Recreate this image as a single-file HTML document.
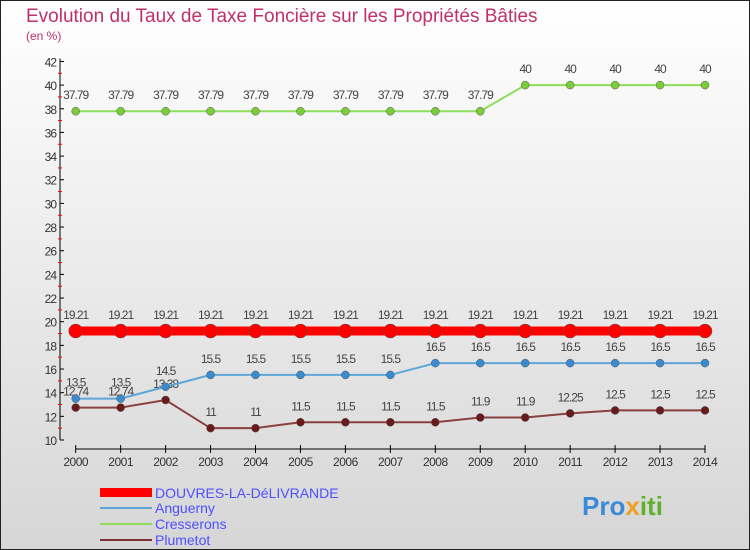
<!DOCTYPE html>
<html><head><meta charset="utf-8">
<style>
body{margin:0;width:750px;height:550px;overflow:hidden;font-family:"Liberation Sans",sans-serif}
svg{display:block}
</style></head>
<body>
<svg width="750" height="550" viewBox="0 0 750 550">
<defs><linearGradient id="bg" x1="0" y1="0" x2="0" y2="1"><stop offset="0" stop-color="#ffffff"/><stop offset="1" stop-color="#d6d6d6"/></linearGradient></defs>
<rect x="0.5" y="0.5" width="749" height="549" fill="url(#bg)" stroke="#222"/>
<text x="26" y="22" font-size="19" fill="#c0306a">Evolution du Taux de Taxe Foncière sur les Propriétés Bâties</text>
<text x="26" y="40" font-size="12" fill="#c0306a">(en %)</text>
<g id="axes"></g>
<g id="series"></g>
<g>
<rect x="100" y="488" width="52" height="9" fill="#ff0000"/>
<text x="155" y="498" font-size="14" fill="#4f4fff">DOUVRES-LA-DéLIVRANDE</text>
<line x1="100" y1="508" x2="152" y2="508" stroke="#5ea6d8" stroke-width="2"/>
<text x="155" y="513" font-size="14" fill="#4f4fff">Anguerny</text>
<line x1="100" y1="524" x2="152" y2="524" stroke="#8fdc5a" stroke-width="2"/>
<text x="155" y="529" font-size="14" fill="#4f4fff">Cresserons</text>
<line x1="100" y1="540" x2="152" y2="540" stroke="#7a3030" stroke-width="2"/>
<text x="155" y="545" font-size="14" fill="#4f4fff">Plumetot</text>
</g>
<text x="582" y="515" font-size="26" font-weight="bold" fill="#3a8ad8">Pro<tspan fill="#f0a020">x</tspan><tspan fill="#60b030">iti</tspan></text>
</svg>
<script>
const years=[2000,2001,2002,2003,2004,2005,2006,2007,2008,2009,2010,2011,2012,2013,2014];
const douvres=[19.21,19.21,19.21,19.21,19.21,19.21,19.21,19.21,19.21,19.21,19.21,19.21,19.21,19.21,19.21];
const anguerny=[13.5,13.5,14.5,15.5,15.5,15.5,15.5,15.5,16.5,16.5,16.5,16.5,16.5,16.5,16.5];
const cresserons=[37.79,37.79,37.79,37.79,37.79,37.79,37.79,37.79,37.79,37.79,40,40,40,40,40];
const plumetot=[12.74,12.74,13.38,11,11,11.5,11.5,11.5,11.5,11.9,11.9,12.25,12.5,12.5,12.5];
const yTicks=[10,12,14,16,18,20,22,24,26,28,30,32,34,36,38,40,42];
const NS='http://www.w3.org/2000/svg';
const xs=i=>75.7+i*44.95;
const ys=v=>440-(v-10)*11.83;
function mk(tag,attrs,parent){const e=document.createElementNS(NS,tag);for(const k in attrs)e.setAttribute(k,attrs[k]);parent.appendChild(e);return e;}
const ax=document.getElementById('axes');
let l=mk('line',{x1:60,y1:ys(42)-3,x2:60,y2:ys(10),stroke:'#000'},ax);


l=mk('line',{x1:xs(0),y1:449,x2:xs(14),y2:449,stroke:'#000'},ax);


yTicks.forEach(v=>{
 mk('line',{x1:60,y1:ys(v),x2:64,y2:ys(v),stroke:'#000'},ax);
 if(v<42)mk('line',{x1:58,y1:ys(v+1),x2:62,y2:ys(v+1),stroke:'#f00'},ax);
 const t=mk('text',{x:56,y:ys(v)+5,'font-size':12,'text-anchor':'end',fill:'#333','letter-spacing':'-1'},ax);
 t.textContent=v;
 
 
});
years.forEach((y,i)=>{
 mk('line',{x1:xs(i),y1:445,x2:xs(i),y2:453,stroke:'#000'},ax);
 const t=mk('text',{x:xs(i),y:466,'font-size':12,'text-anchor':'middle',fill:'#333','letter-spacing':'-0.5'},ax);
 t.textContent=y;
 
 
});
const sg=document.getElementById('series');
function series(vals,name,color,w,r,dot,off){
 const g=mk('g',{},sg);
 
 
 const p=mk('polyline',{points:vals.map((v,i)=>xs(i)+','+ys(v)).join(' '),fill:'none',stroke:color,'stroke-width':w},g);
 
 
 vals.forEach((v,i)=>{
  const c=mk('circle',{cx:xs(i),cy:ys(v),r:r,fill:dot,stroke:'#555','stroke-width':0.5},g);
  
  
  const t=mk('text',{x:xs(i),y:ys(v)-off,'font-size':12,'text-anchor':'middle',fill:'#444','letter-spacing':'-1'},g);
  t.textContent=String(v).replace(/\.(\d)$/,'.$1');
  
  
 });
}
series(cresserons,'cresserons','#8fdc5a',2,4,'#7ccc3a',12);
series(plumetot,'plumetot','#8a4040',2,4,'#6a1a1a',12);
series(anguerny,'anguerny','#5ea6d8',2,4,'#3a8ad0',12);
series(douvres,'douvres','#ff0000',9,7,'#ff0000',12);
</script>
</body></html>
